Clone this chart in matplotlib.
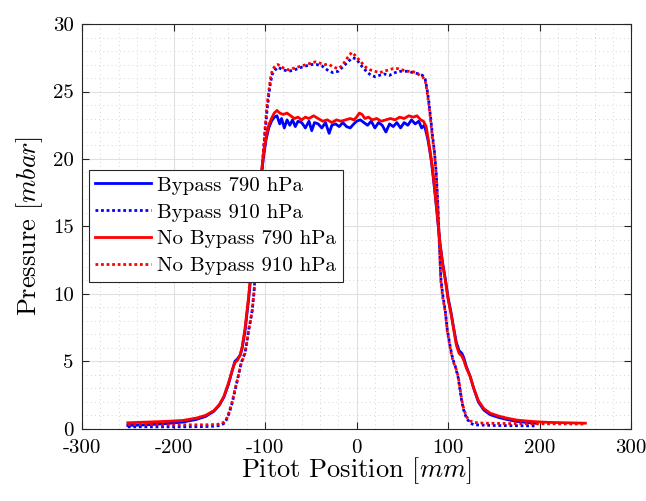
import matplotlib
matplotlib.use('Agg')
import matplotlib.pyplot as plt
import numpy as np

# data: (position mm, pressure mbar)
bypass_790 = np.array([
    (-250, 0.25), (-230, 0.3), (-210, 0.38), (-190, 0.5), (-175, 0.7), (-165, 0.92), (-156, 1.3),
    (-150, 1.75), (-145, 2.35), (-140, 3.3), (-136, 4.3), (-133, 5.0), (-130, 5.2), (-127, 5.5),
    (-125, 6.0), (-122, 7.2), (-120, 8.4), (-118, 9.6), (-116, 11.0), (-113, 13.3), (-110, 15.3),
    (-107, 17.1), (-104, 18.8), (-102, 20.0), (-99, 21.4), (-96, 22.3), (-93, 22.8), (-90, 23.1),
    (-87, 23.2), (-84, 22.6), (-82, 23.0), (-79, 22.3), (-76, 22.9), (-73, 22.5), (-70, 22.9),
    (-67, 22.4), (-64, 22.8), (-60, 22.7), (-56, 22.3), (-52, 22.8), (-49, 22.1), (-46, 22.7),
    (-42, 22.6), (-38, 22.3), (-34, 22.7), (-30, 21.9), (-27, 22.5), (-23, 22.6), (-19, 22.4),
    (-15, 22.7), (-11, 22.4), (-7, 22.3), (-3, 22.6), (0, 22.8), (4, 22.9), (8, 22.7), (12, 22.5),
    (16, 22.8), (20, 22.3), (24, 22.7), (28, 22.5), (32, 22.0), (36, 22.6), (40, 22.4), (44, 22.7),
    (48, 22.3), (52, 22.7), (56, 22.5), (60, 22.9), (64, 22.6), (68, 22.8), (71, 22.3), (74, 22.5),
    (76, 22.0), (78, 21.4), (80, 20.6), (82, 19.7), (85, 17.9), (88, 15.9), (91, 13.8), (94, 12.3),
    (97, 11.1), (100, 9.7), (103, 8.7), (106, 7.5), (109, 6.4), (112, 5.8), (115, 5.6), (117, 5.3),
    (120, 4.6), (124, 3.9), (128, 3.0), (133, 2.0), (139, 1.4), (146, 1.05), (155, 0.85),
    (164, 0.7), (175, 0.55), (190, 0.45), (195, 0.42)])

bypass_910 = np.array([
    (-250, 0.15), (-220, 0.15), (-190, 0.15), (-165, 0.17), (-155, 0.2), (-149, 0.25), (-145, 0.4),
    (-142, 0.7), (-139, 1.2), (-136, 1.9), (-133, 2.8), (-130, 3.7), (-128, 4.3), (-126, 4.9),
    (-124, 5.3), (-122, 5.6), (-120, 6.4), (-118, 7.3), (-116, 8.0), (-114, 8.8), (-112, 10.2),
    (-110, 12.2), (-108, 14.3), (-106, 16.3), (-104, 18.4), (-102, 20.3), (-100, 22.0), (-98, 23.5),
    (-96, 24.7), (-94, 25.7), (-92, 26.3), (-89, 26.6), (-86, 26.8), (-80, 26.6), (-74, 26.5),
    (-68, 26.6), (-60, 26.8), (-50, 27.0), (-44, 27.0), (-38, 26.9), (-32, 26.6), (-26, 26.4),
    (-20, 26.5), (-14, 26.9), (-8, 27.3), (-4, 27.5), (0, 27.4), (4, 27.0), (8, 26.7), (12, 26.4),
    (16, 26.2), (20, 26.1), (25, 26.2), (30, 26.3), (36, 26.2), (42, 26.4), (48, 26.5), (55, 26.5),
    (62, 26.4), (68, 26.3), (72, 26.2), (75, 25.9), (77, 25.2), (79, 24.2), (81, 23.0), (83, 21.7),
    (85, 20.6), (87, 19.0), (89, 16.4), (90.5, 13.7), (92, 11.2), (94, 10.0), (97, 8.7), (99, 7.4),
    (102, 6.2), (104, 5.5), (106, 5.0), (108, 4.6), (111, 3.8), (113, 2.9), (115, 2.0), (117, 1.4),
    (120, 0.8), (124, 0.45), (128, 0.3), (150, 0.25), (195, 0.22)])

nobypass_790 = np.array([
    (-250, 0.45), (-230, 0.5), (-210, 0.55), (-190, 0.62), (-175, 0.8), (-165, 1.0), (-156, 1.35),
    (-150, 1.8), (-145, 2.4), (-140, 3.4), (-136, 4.3), (-133, 4.9), (-130, 5.1), (-127, 5.5),
    (-125, 6.1), (-122, 7.4), (-120, 8.6), (-118, 9.8), (-116, 11.2), (-113, 13.5), (-110, 15.5),
    (-107, 17.3), (-104, 19.0), (-102, 20.2), (-99, 21.6), (-96, 22.5), (-93, 23.0), (-90, 23.4),
    (-87, 23.6), (-84, 23.4), (-80, 23.3), (-76, 23.4), (-72, 23.2), (-68, 23.0), (-64, 23.1),
    (-60, 22.9), (-56, 23.1), (-52, 23.0), (-47, 23.2), (-42, 23.0), (-37, 22.8), (-32, 22.9),
    (-27, 22.7), (-22, 22.9), (-17, 22.8), (-12, 22.9), (-7, 23.0), (-3, 22.9), (0, 23.1), (3, 23.4),
    (6, 23.3), (9, 23.0), (13, 23.1), (17, 22.9), (22, 23.0), (27, 22.8), (32, 22.9), (37, 23.0),
    (42, 22.9), (47, 23.1), (52, 23.0), (57, 23.2), (62, 23.1), (66, 23.2), (70, 22.9), (73, 22.8),
    (76, 22.4), (78, 21.6), (80, 20.7), (82, 19.8), (85, 18.0), (88, 16.0), (91, 13.8), (94, 12.2),
    (97, 11.0), (100, 9.6), (103, 8.6), (106, 7.4), (109, 6.2), (112, 5.6), (115, 5.4), (117, 5.1),
    (120, 4.5), (124, 3.9), (128, 3.0), (133, 2.1), (139, 1.5), (146, 1.16), (155, 0.95),
    (164, 0.8), (175, 0.65), (193, 0.54), (210, 0.48), (230, 0.45), (250, 0.42)])

nobypass_910 = np.array([
    (-250, 0.32), (-220, 0.3), (-190, 0.3), (-165, 0.3), (-155, 0.32), (-149, 0.36), (-145, 0.5),
    (-142, 0.75), (-139, 1.3), (-136, 2.0), (-133, 2.9), (-130, 3.7), (-128, 4.3), (-126, 4.9),
    (-124, 5.2), (-122, 5.6), (-120, 6.4), (-118, 7.3), (-116, 8.0), (-114, 8.8), (-112, 10.2),
    (-110, 12.2), (-108, 14.5), (-106, 16.5), (-104, 18.6), (-102, 20.5), (-100, 22.3), (-98, 23.9),
    (-96, 25.0), (-94, 26.0), (-92, 26.6), (-89, 26.9), (-86, 27.0), (-82, 26.8), (-78, 26.7),
    (-74, 26.6), (-70, 26.7), (-65, 26.8), (-60, 26.9), (-55, 27.0), (-50, 27.1), (-45, 27.2),
    (-40, 27.1), (-35, 27.0), (-30, 27.0), (-25, 26.8), (-20, 26.7), (-16, 26.9), (-12, 27.3),
    (-8, 27.7), (-5, 27.9), (-2, 27.7), (2, 27.4), (6, 27.1), (10, 26.8), (15, 26.6), (20, 26.5),
    (25, 26.4), (30, 26.5), (35, 26.6), (40, 26.7), (45, 26.7), (50, 26.6), (55, 26.5), (60, 26.5),
    (65, 26.4), (69, 26.2), (72, 26.1), (75, 25.8), (77, 25.0), (79, 24.0), (81, 22.8), (83, 21.5),
    (85, 20.5), (87, 18.8), (89, 16.2), (90.5, 13.5), (92, 11.0), (94, 9.8), (97, 8.6), (99, 7.3),
    (102, 6.1), (104, 5.4), (106, 4.9), (108, 4.6), (111, 3.9), (113, 3.0), (115, 2.1), (117, 1.5),
    (120, 0.9), (124, 0.6), (128, 0.47), (140, 0.42), (160, 0.4), (190, 0.38), (220, 0.37),
    (250, 0.36)])

labels = ['Bypass 790 hPa', 'Bypass 910 hPa', 'No Bypass 790 hPa', 'No Bypass 910 hPa']
xticks = [-300, -200, -100, 0, 100, 200, 300]
yticks = [0, 5, 10, 15, 20, 25, 30]

plt.rcParams['font.family'] = 'cmr10'
plt.rcParams['mathtext.fontset'] = 'cm'
plt.rcParams['axes.unicode_minus'] = False
plt.rcParams['axes.formatter.use_mathtext'] = True

fig = plt.figure(figsize=(6.46, 5.01), dpi=100)
ax = fig.add_axes([0.127, 0.144, 0.850, 0.808])

dot = (0, (1, 1))
ax.plot(bypass_790[:, 0], bypass_790[:, 1], color='#0000ff', lw=2, label=labels[0])
ax.plot(bypass_910[:, 0], bypass_910[:, 1], color='#0000ff', lw=2, ls=dot, label=labels[1])
ax.plot(nobypass_790[:, 0], nobypass_790[:, 1], color='#ff0000', lw=2, label=labels[2])
ax.plot(nobypass_910[:, 0], nobypass_910[:, 1], color='#ff0000', lw=2, ls=dot, label=labels[3])

ax.set_xlim(-300, 300)
ax.set_ylim(0, 30)
ax.set_xticks(xticks)
ax.set_yticks(yticks)
ax.set_xticklabels([str(t) for t in xticks])
ax.set_yticklabels([str(t) for t in yticks])
ax.set_xticks(np.arange(-300, 301, 20), minor=True)
ax.set_yticks(np.arange(0, 31, 1), minor=True)

# MATLAB look: box, inward ticks, major + dotted minor grid
ax.tick_params(which='major', direction='in', top=True, right=True, length=5,
               labelsize=15, color='#262626', width=0.8)
ax.tick_params(axis='x', which='major', pad=7)
ax.tick_params(axis='y', which='major', pad=6)
ax.tick_params(which='minor', length=0, top=True, right=True)
ax.grid(which='major', color='#e0e0e0', lw=0.8, ls='-')
ax.grid(which='minor', color='#c8c8c8', lw=0.6, ls=(0, (1, 4)))
ax.set_axisbelow(True)
for s in ax.spines.values():
    s.set_color('#262626')
    s.set_linewidth(0.8)

ax.set_xlabel(r'Pitot Position $[mm]$', fontsize=19, labelpad=-1)
ax.set_ylabel(r'Pressure $[mbar]$', fontsize=19, labelpad=6)

leg = ax.legend(loc='upper left', bbox_to_anchor=(0.012, 0.64), fontsize=15,
                frameon=True, fancybox=False, edgecolor='#262626', framealpha=1,
                handlelength=2.7, handletextpad=0.3, borderpad=0.3, labelspacing=0.4,
                borderaxespad=0)
leg.get_frame().set_linewidth(0.8)

fig.savefig('out.png', dpi=100)
